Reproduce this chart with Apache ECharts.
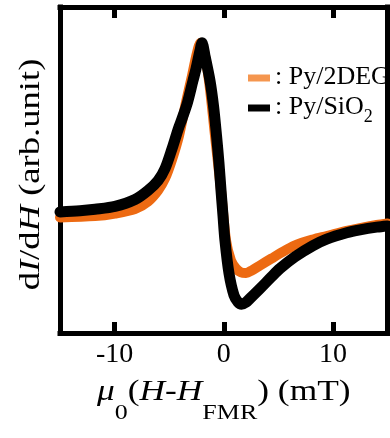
<!DOCTYPE html>
<html><head><meta charset="utf-8">
<script src="https://cdn.jsdelivr.net/npm/echarts@6/dist/echarts.min.js"></script>
<style>html,body{margin:0;padding:0;background:#fff}#c{width:390px;height:438px}</style>
</head><body><div id="c"></div>
<script>
// Series names
const seriesNames = ['Py/2DEG', 'Py/SiO2'];
// x tick values (mT)
const xTicks = [-10, 0, 10];
// axis titles
const xTitle = '{iv|μ}{sub|0}{m|(}{iv|H}{m|-}{iv|H}{sub|FMR}{m|) (mT)}';
const yTitle = '{m|d}{i|I}{m|/d}{i|H}{m| (arb.unit)}';
// Py/2DEG (orange) : [mu0(H-H_FMR) in mT, dI/dH in arb. unit]
const py2deg = [
  [-15.0, -0.023], [-11.79, -0.015], [-9.96, 0.0], [-8.13, 0.026], [-6.94, 0.070],
  [-6.02, 0.135], [-5.38, 0.205], [-4.74, 0.316], [-4.10, 0.456], [-3.46, 0.651],
  [-2.91, 0.807], [-2.45, 0.942], [-2.13, 1.0], [-1.81, 0.953], [-1.35, 0.778],
  [-0.80, 0.456], [-0.25, 0.135], [0.21, -0.158], [0.66, -0.275], [1.12, -0.322],
  [1.58, -0.345], [2.04, -0.348], [2.59, -0.333], [3.32, -0.304], [4.39, -0.263],
  [5.15, -0.234], [6.53, -0.187], [8.18, -0.152], [9.43, -0.132], [11.26, -0.102],
  [12.48, -0.085], [14.01, -0.067], [15.0, -0.058]
];
// Py/SiO2 (black)
const pySiO2 = [
  [-15.0, 0.009], [-13.17, 0.016], [-11.79, 0.025], [-9.96, 0.042], [-8.13, 0.082],
  [-6.94, 0.135], [-6.02, 0.193], [-5.38, 0.263], [-4.74, 0.380], [-4.16, 0.497],
  [-3.82, 0.556], [-3.32, 0.651], [-2.82, 0.778], [-2.54, 0.848], [-2.18, 0.953],
  [-1.99, 1.0], [-1.72, 0.924], [-1.26, 0.778], [-0.94, 0.632], [-0.66, 0.456],
  [-0.44, 0.298], [-0.25, 0.135], [-0.07, -0.012], [0.11, -0.158], [0.48, -0.351],
  [0.94, -0.48], [1.31, -0.52], [1.63, -0.532], [2.04, -0.52], [2.40, -0.498],
  [3.32, -0.44], [4.39, -0.37], [5.15, -0.322], [6.53, -0.253], [8.18, -0.188],
  [9.43, -0.150], [11.26, -0.113], [12.48, -0.096], [14.01, -0.080], [15.0, -0.073]
];

const FONT = 'Liberation Serif';
const Y_MIN = -0.70, Y_MAX = 1.21;
const chart = echarts.init(document.getElementById('c'), null, {renderer: 'canvas'});

// inward tick marks (11 px long) on top and bottom edges, placed through the axes' scales
const tickLen = (Y_MAX - Y_MIN) * 11 / 326;
const tickMarks = [];
xTicks.forEach(function (t) {
  tickMarks.push([{coord: [t, Y_MIN]}, {coord: [t, Y_MIN + tickLen]}]);
  tickMarks.push([{coord: [t, Y_MAX]}, {coord: [t, Y_MAX - tickLen]}]);
});

function boxLine() {
  return {show: true, onZero: false, lineStyle: {color: '#000', width: 5, cap: 'square'}};
}
chart.setOption({
  animation: false,
  backgroundColor: '#fff',
  grid: {left: 60, right: 2.5, top: 7, bottom: 105, show: false},
  legend: {
    orient: 'vertical', left: 243, top: 59, itemWidth: 22, itemHeight: 7, itemGap: 2, icon: 'rect',
    selectedMode: false,
    data: [
      {name: seriesNames[0], itemStyle: {color: '#F5964F'}},
      {name: seriesNames[1], itemStyle: {color: '#000'}}
    ],
    formatter: function (n) { return n === 'Py/SiO2' ? '{m|: Py/SiO}{sub|2}' : '{m|: ' + n + '}'; },
    textStyle: {
      fontFamily: FONT, fontSize: 26, color: '#000', lineHeight: 28,
      rich: {
        m: {fontFamily: FONT, fontSize: 26, color: '#000', lineHeight: 28, verticalAlign: 'top'},
        sub: {fontFamily: FONT, fontSize: 18, color: '#000', lineHeight: 18, padding: [14, 0, 0, 0], verticalAlign: 'top'}
      }
    }
  },
  graphic: [{
    type: 'text', x: 223.75, y: 377, scaleX: 1.18, silent: true,
    style: {
      text: xTitle, align: 'center', verticalAlign: 'top', fill: '#000',
      fontFamily: FONT, fontSize: 30,
      rich: {
        m: {fontFamily: FONT, fontSize: 30, fill: '#000', lineHeight: 30, verticalAlign: 'top'},
        iv: {fontFamily: FONT, fontSize: 30, fontStyle: 'italic', fill: '#000', lineHeight: 30, verticalAlign: 'top'},
        sub: {fontFamily: FONT, fontSize: 22, fill: '#000', lineHeight: 22, padding: [25, 0, 0, 0], verticalAlign: 'top'}
      }
    }
  }, {
    type: 'text', x: 31, y: 174.5, rotation: Math.PI / 2, scaleX: 1.22, silent: true,
    style: {
      text: yTitle, align: 'center', verticalAlign: 'middle', fill: '#000',
      fontFamily: FONT, fontSize: 30,
      rich: {
        m: {fontFamily: FONT, fontSize: 30, fill: '#000', lineHeight: 30},
        i: {fontFamily: FONT, fontSize: 30, fontStyle: 'italic', fill: '#000', lineHeight: 30}
      }
    }
  }],
  xAxis: [{
    type: 'value', min: -15, max: 15, position: 'bottom',
    axisLine: boxLine(), splitLine: {show: false},
    axisTick: {show: false},
    axisLabel: {show: true, customValues: xTicks, margin: 8, fontFamily: FONT, fontSize: 28, color: '#000'}
  }, {
    type: 'value', min: -15, max: 15, position: 'top',
    axisLine: boxLine(), splitLine: {show: false},
    axisTick: {show: false}, axisLabel: {show: false}
  }],
  yAxis: [{
    type: 'value', min: Y_MIN, max: Y_MAX, position: 'left',
    axisLine: boxLine(), axisTick: {show: false}, axisLabel: {show: false}, splitLine: {show: false}
  }, {
    type: 'value', min: Y_MIN, max: Y_MAX, position: 'right',
    axisLine: boxLine(), axisTick: {show: false}, axisLabel: {show: false}, splitLine: {show: false}
  }],
  series: [{
    name: seriesNames[0], type: 'line', data: py2deg, showSymbol: false, smooth: 0.3,
    lineStyle: {color: '#ED6A12', width: 10, cap: 'round', join: 'round'},
    itemStyle: {color: '#F5964F'}, z: 2
  }, {
    name: seriesNames[1], type: 'line', data: pySiO2, showSymbol: false, smooth: 0.3,
    lineStyle: {color: '#000', width: 11, cap: 'round', join: 'round'},
    itemStyle: {color: '#000'}, z: 3,
    markLine: {
      silent: true, animation: false, symbol: ['none', 'none'], label: {show: false},
      lineStyle: {color: '#000', width: 5, type: 'solid', cap: 'butt'},
      emphasis: {disabled: true},
      data: tickMarks
    }
  }]
});
</script>
</body></html>
